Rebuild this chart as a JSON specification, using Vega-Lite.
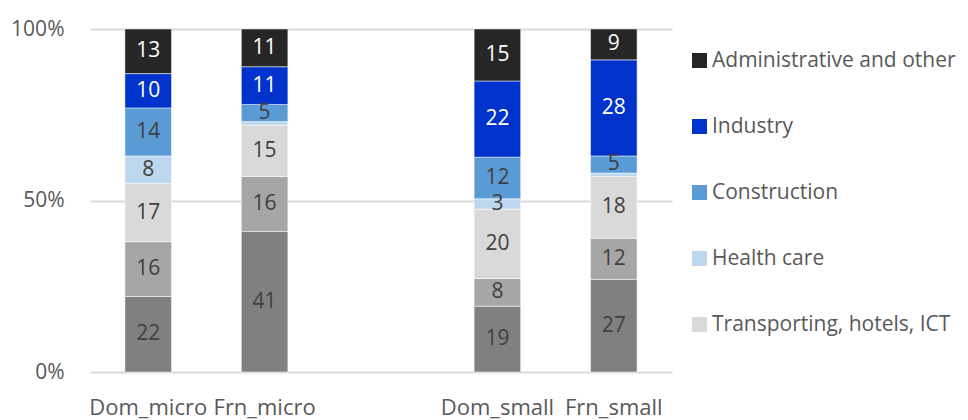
{
  "$schema": "https://vega.github.io/schema/vega-lite/v6.json",
  "width": 582,
  "height": 343,
  "autosize": {"type": "none"},
  "padding": {"left": 90, "top": 29, "right": 296, "bottom": 48},
  "background": "white",
  "config": {
    "view": {"stroke": null},
    "font": "Open Sans"
  },
  "data": {
    "values": [
      {"bar": "Dom_micro", "sector": "Professional activities", "value": 22},
      {"bar": "Dom_micro", "sector": "Trade", "value": 16},
      {"bar": "Dom_micro", "sector": "Transporting, hotels, ICT", "value": 17},
      {"bar": "Dom_micro", "sector": "Health care", "value": 8},
      {"bar": "Dom_micro", "sector": "Construction", "value": 14},
      {"bar": "Dom_micro", "sector": "Industry", "value": 10},
      {"bar": "Dom_micro", "sector": "Administrative and other", "value": 13},
      {"bar": "Frn_micro", "sector": "Professional activities", "value": 41},
      {"bar": "Frn_micro", "sector": "Trade", "value": 16},
      {"bar": "Frn_micro", "sector": "Transporting, hotels, ICT", "value": 15},
      {"bar": "Frn_micro", "sector": "Health care", "value": 1},
      {"bar": "Frn_micro", "sector": "Construction", "value": 5},
      {"bar": "Frn_micro", "sector": "Industry", "value": 11},
      {"bar": "Frn_micro", "sector": "Administrative and other", "value": 11},
      {"bar": "Dom_small", "sector": "Professional activities", "value": 19},
      {"bar": "Dom_small", "sector": "Trade", "value": 8},
      {"bar": "Dom_small", "sector": "Transporting, hotels, ICT", "value": 20},
      {"bar": "Dom_small", "sector": "Health care", "value": 3},
      {"bar": "Dom_small", "sector": "Construction", "value": 12},
      {"bar": "Dom_small", "sector": "Industry", "value": 22},
      {"bar": "Dom_small", "sector": "Administrative and other", "value": 15},
      {"bar": "Frn_small", "sector": "Professional activities", "value": 27},
      {"bar": "Frn_small", "sector": "Trade", "value": 12},
      {"bar": "Frn_small", "sector": "Transporting, hotels, ICT", "value": 18},
      {"bar": "Frn_small", "sector": "Health care", "value": 1},
      {"bar": "Frn_small", "sector": "Construction", "value": 5},
      {"bar": "Frn_small", "sector": "Industry", "value": 28},
      {"bar": "Frn_small", "sector": "Administrative and other", "value": 9}
    ]
  },
  "transform": [
    {"stack": "value", "groupby": ["bar"], "offset": "normalize", "as": ["y0", "y1"]},
    {"calculate": "(datum.y0 + datum.y1) / 2", "as": "ymid"}
  ],
  "encoding": {
    "x": {
      "field": "bar",
      "type": "nominal",
      "scale": {
        "domain": ["Dom_micro", "Frn_micro", " ", "Dom_small", "Frn_small"],
        "paddingInner": 0.6,
        "paddingOuter": 0.3
      },
      "axis": {
        "title": null,
        "labelAngle": 0,
        "domain": false,
        "ticks": false,
        "labelPadding": 25,
        "labelFontSize": 22,
        "labelColor": "#595959",
        "labelFont": "Open Sans"
      }
    }
  },
  "layer": [
    {
      "mark": {"type": "bar", "stroke": "white", "strokeWidth": 0.5},
      "encoding": {
        "y": {
          "field": "y0",
          "type": "quantitative",
          "scale": {"domain": [0, 1]},
          "axis": {
            "title": null,
            "values": [0, 0.5, 1],
            "format": ".0%",
            "domain": false,
            "ticks": false,
            "grid": true,
            "gridColor": "#D9D9D9",
            "gridWidth": 2,
            "labelPadding": 26,
            "labelFontSize": 21,
            "labelColor": "#595959",
            "labelFont": "Open Sans"
          }
        },
        "y2": {"field": "y1"},
        "color": {
          "field": "sector",
          "type": "nominal",
          "scale": {
            "domain": ["Administrative and other", "Industry", "Construction", "Health care", "Transporting, hotels, ICT", "Trade", "Professional activities"],
            "range": ["#262626", "#0033CC", "#5B9BD5", "#BDD7EE", "#D9D9D9", "#A6A6A6", "#808080"]
          },
          "legend": {
            "title": null,
            "values": ["Administrative and other", "Industry", "Construction", "Health care", "Transporting, hotels, ICT"],
            "orient": "none",
            "legendX": 599,
            "legendY": 21,
            "padding": 0,
            "symbolType": "square",
            "symbolSize": 225,
            "symbolStrokeWidth": 0,
            "labelFontSize": 21,
            "labelColor": "#595959",
            "labelFont": "Open Sans",
            "labelOffset": 2,
            "labelLimit": 500,
            "rowPadding": 44
          }
        }
      }
    },
    {
      "transform": [{"filter": "datum.value > 1"}],
      "mark": {"type": "text", "fontSize": 21, "font": "Open Sans", "baseline": "middle", "align": "center"},
      "encoding": {
        "y": {"field": "ymid", "type": "quantitative"},
        "text": {"field": "value", "type": "quantitative"},
        "color": {
          "condition": {"test": "datum.sector === 'Administrative and other' || datum.sector === 'Industry'", "value": "white"},
          "value": "#404040"
        }
      }
    }
  ]
}
